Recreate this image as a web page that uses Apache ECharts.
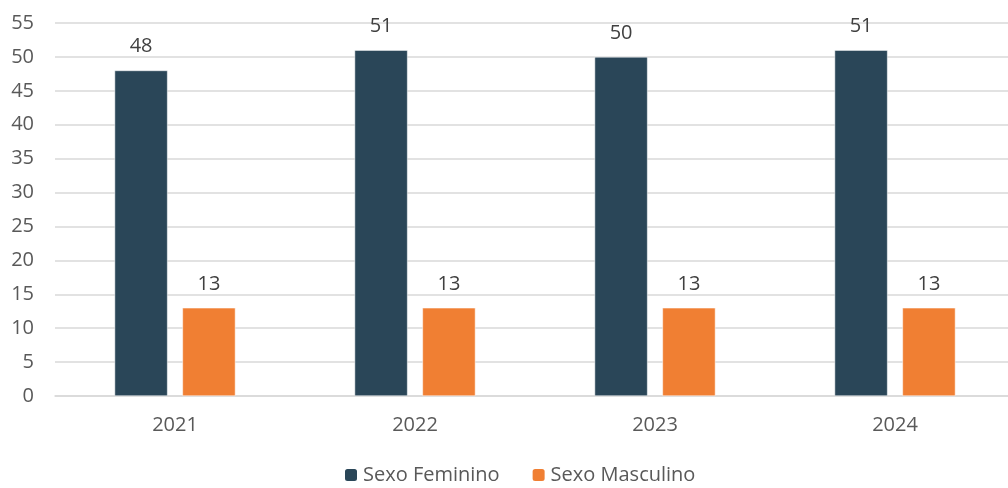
<!DOCTYPE html>
<html><head><meta charset="utf-8">
<script src="https://cdn.jsdelivr.net/npm/echarts@6/dist/echarts.min.js"></script>
<style>html,body{margin:0;padding:0;background:#fff;overflow:hidden}#c{width:1015px;height:488px}</style>
</head><body><div id="c"></div>
<script>
const categories = ['2021', '2022', '2023', '2024'];
const feminino = [48, 51, 50, 51];
const masculino = [13, 13, 13, 13];
const seriesNames = ['Sexo Feminino', 'Sexo Masculino'];

const chart = echarts.init(document.getElementById('c'));
const font = '"Open Sans", Roboto, sans-serif';
chart.setOption({
  animation: false,
  textStyle: { fontFamily: font },
  grid: { left: 55, top: 23, right: 0, height: 373, containLabel: false },
  legend: {
    top: 465, left: 343, padding: 0,
    itemWidth: 14, itemHeight: 14, itemGap: 31,
    textStyle: { color: '#595959', fontSize: 20, fontFamily: font },
    data: seriesNames
  },
  xAxis: {
    type: 'category', data: categories,
    axisLine: { lineStyle: { color: '#D9D9D9', width: 1.5 } },
    axisTick: { show: false },
    axisLabel: { color: '#595959', fontSize: 20, margin: 19 }
  },
  yAxis: {
    type: 'value', min: 0, max: 55, interval: 5,
    axisLine: { show: false }, axisTick: { show: false },
    axisLabel: { color: '#595959', fontSize: 20, margin: 21 },
    splitLine: { lineStyle: { color: '#D9D9D9', width: 1.5 } }
  },
  series: [
    { name: seriesNames[0], type: 'bar', data: feminino, barWidth: 53, barGap: '28%',
      itemStyle: { color: '#2A4658', borderColor: '#fff', borderWidth: 0.5 },
      label: { show: true, position: 'top', distance: 14, color: '#404040', fontSize: 20 } },
    { name: seriesNames[1], type: 'bar', data: masculino, barWidth: 53,
      itemStyle: { color: '#F07F33', borderColor: '#fff', borderWidth: 0.5 },
      label: { show: true, position: 'top', distance: 14, color: '#404040', fontSize: 20 } }
  ]
});
</script></body></html>
